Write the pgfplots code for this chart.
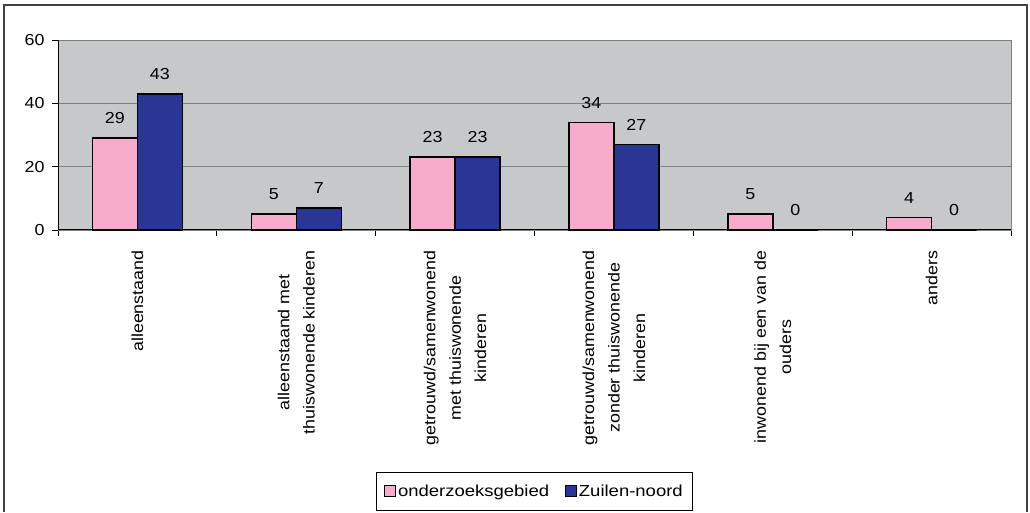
\documentclass[border=0pt]{standalone}
\usepackage{pgfplots}
\pgfplotsset{compat=1.18}
\usepackage{fontspec}
\setmainfont{Liberation Sans}[FakeStretch=1.12]
\newfontfamily\legfont{Liberation Sans}[FakeStretch=1.16]

\definecolor{roze}{RGB}{247,172,204}
\definecolor{donkerblauw}{RGB}{42,54,148}
\definecolor{vlak}{RGB}{199,200,202}
\definecolor{raster}{RGB}{128,128,128}
\definecolor{rand}{RGB}{64,64,64}

\pgfplotsset{/pgf/number format/assume math mode=true}

\begin{document}
\begin{tikzpicture}
\begin{axis}[
    scale only axis, width=953bp, height=190bp,
    clip=false,
    font=\fontsize{16}{25}\selectfont,
    axis background/.style={fill=vlak},
    axis line style={draw=raster, line width=0.8bp},
    ybar=0pt, bar width=45bp,
    xmin=-0.5, xmax=5.5, ymin=0, ymax=60,
    ytick={0,20,40,60},
    xtick={0,...,5},
    xticklabels={alleenstaand,
        alleenstaand met\\thuiswonende kinderen,
        getrouwd/samenwonend\\met thuiswonende\\kinderen,
        getrouwd/samenwonend\\zonder thuiswonende\\kinderen,
        inwonend bij een van de\\ouders,
        anders},
    minor xtick={-0.5,0.5,...,5.5},
    xtick pos=bottom, ytick pos=left,
    tick align=outside,
    major tick length=6bp, minor tick length=6bp,
    major x tick style={draw=none},
    minor x tick style={draw=black, line width=0.8bp},
    major y tick style={draw=black, line width=0.8bp},
    xticklabel style={rotate=90, anchor=east, align=center, xshift=-11bp,
        font=\fontsize{16}{25.5}\selectfont},
    yticklabel style={xshift=-4bp},
    ymajorgrids, grid style={draw=raster, line width=0.8bp},
    nodes near coords,
    every node near coord/.append style={anchor=south, yshift=10bp, text=black},
    legend style={at={(0.5,-1.2737)}, anchor=north, draw=black, line width=0.8bp,
        font=\legfont\fontsize{16}{20}\selectfont,
        legend columns=-1, inner xsep=7.5bp, inner ysep=10.5bp,
        /tikz/every even column/.append style={column sep=14bp}},
    legend image code/.code={\draw[#1, line width=0.8bp] (0bp,-5bp) rectangle (11bp,6bp);},
]
\addplot[fill=roze, draw=black, line width=1.5bp]
    coordinates {(0,29) (1,5) (2,23) (3,34) (4,5) (5,4)};
\addplot[fill=donkerblauw, draw=black, line width=1.5bp]
    coordinates {(0,43) (1,7) (2,23) (3,27) (4,0) (5,0)};
\legend{onderzoeksgebied,Zuilen-noord}
\draw[black, line width=1bp] (rel axis cs:0,1) -- (rel axis cs:0,0) -- (rel axis cs:1,0);
% outer frame of the chart, open at the bottom edge of the page
\path (rel axis cs:-0.060860,-1.484211) rectangle (rel axis cs:1.019937,1.210526);
\draw[rand, line width=1.5bp] (rel axis cs:-0.056663,-1.484211) -- (rel axis cs:-0.056663,1.184211)
    -- (rel axis cs:1.016789,1.184211) -- (rel axis cs:1.016789,-1.484211);
\end{axis}
\end{tikzpicture}
\end{document}
